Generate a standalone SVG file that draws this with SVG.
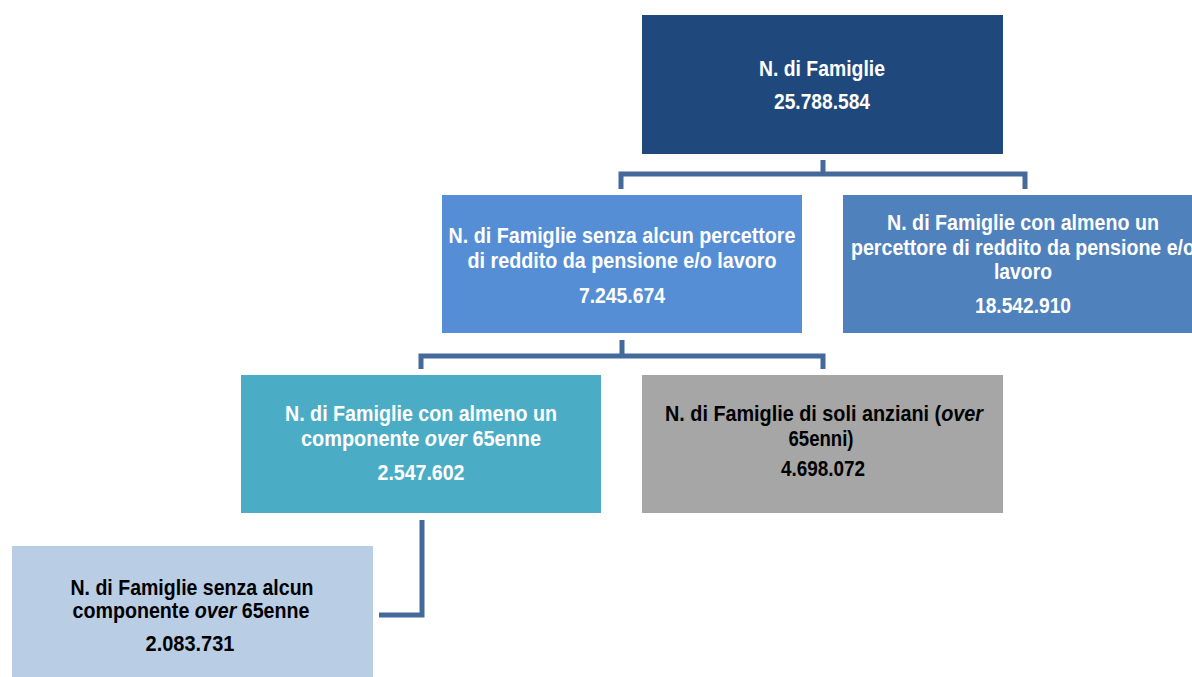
<svg xmlns="http://www.w3.org/2000/svg" width="1192" height="677" viewBox="0 0 1192 677">
<style>
text{font-family:"Liberation Sans",Arial,sans-serif;font-weight:bold;font-size:22px;text-anchor:middle}
.w{fill:#ffffff}.k{fill:#000000}
.c{fill:none;stroke:#44699b;stroke-width:5;stroke-linejoin:miter}
</style>
<rect width="1192" height="677" fill="#ffffff"/>
<g id="connectors">
<path class="c" d="M823,160 V174 M621,189 V174 H1025 V189"/>
<path class="c" d="M622,340 V356 M421,369 V356 H823 V369"/>
<path class="c" d="M422,520 V615 H379"/>
</g>
<g id="n1"><rect x="642" y="15" width="361" height="139" fill="#1f497d"/>
<text class="w" x="822" y="76" textLength="126" lengthAdjust="spacingAndGlyphs">N. di Famiglie</text><text class="w" x="822" y="109" textLength="96" lengthAdjust="spacingAndGlyphs">25.788.584</text></g>
<g id="n2"><rect x="442" y="195" width="360" height="138" fill="#558ed5"/>
<text class="w" x="622" y="243" textLength="347" lengthAdjust="spacingAndGlyphs">N. di Famiglie senza alcun percettore</text><text class="w" x="622" y="268" textLength="309" lengthAdjust="spacingAndGlyphs">di reddito da pensione e/o lavoro</text><text class="w" x="622" y="303" textLength="86" lengthAdjust="spacingAndGlyphs">7.245.674</text></g>
<g id="n3"><rect x="843" y="195" width="360" height="138" fill="#4f81bd"/>
<text class="w" x="1023" y="230" textLength="272" lengthAdjust="spacingAndGlyphs">N. di Famiglie con almeno un</text><text class="w" x="1023" y="255" textLength="344" lengthAdjust="spacingAndGlyphs">percettore di reddito da pensione e/o</text><text class="w" x="1023" y="279" textLength="58" lengthAdjust="spacingAndGlyphs">lavoro</text><text class="w" x="1023" y="313" textLength="96" lengthAdjust="spacingAndGlyphs">18.542.910</text></g>
<g id="n4"><rect x="241" y="375" width="360" height="138" fill="#4bacc6"/>
<text class="w" x="421" y="421" textLength="272" lengthAdjust="spacingAndGlyphs">N. di Famiglie con almeno un</text><text class="w" x="421" y="446" textLength="240" lengthAdjust="spacingAndGlyphs">componente <tspan font-style="italic">over</tspan> 65enne</text><text class="w" x="421" y="480" textLength="87" lengthAdjust="spacingAndGlyphs">2.547.602</text></g>
<g id="n5"><rect x="642" y="375" width="361" height="138" fill="#a6a6a6"/>
<text class="k" x="824" y="421" textLength="318" lengthAdjust="spacingAndGlyphs">N. di Famiglie di soli anziani (<tspan font-style="italic">over</tspan></text><text class="k" x="821" y="446" textLength="65" lengthAdjust="spacingAndGlyphs">65enni)</text><text class="k" x="823" y="476" textLength="84" lengthAdjust="spacingAndGlyphs">4.698.072</text></g>
<g id="n6"><rect x="12" y="546" width="361" height="131" fill="#b9cde5"/>
<text class="k" x="192" y="595" textLength="243" lengthAdjust="spacingAndGlyphs">N. di Famiglie senza alcun</text><text class="k" x="191" y="618" textLength="237" lengthAdjust="spacingAndGlyphs">componente <tspan font-style="italic">over</tspan> 65enne</text><text class="k" x="190" y="651" textLength="89" lengthAdjust="spacingAndGlyphs">2.083.731</text></g>
</svg>
